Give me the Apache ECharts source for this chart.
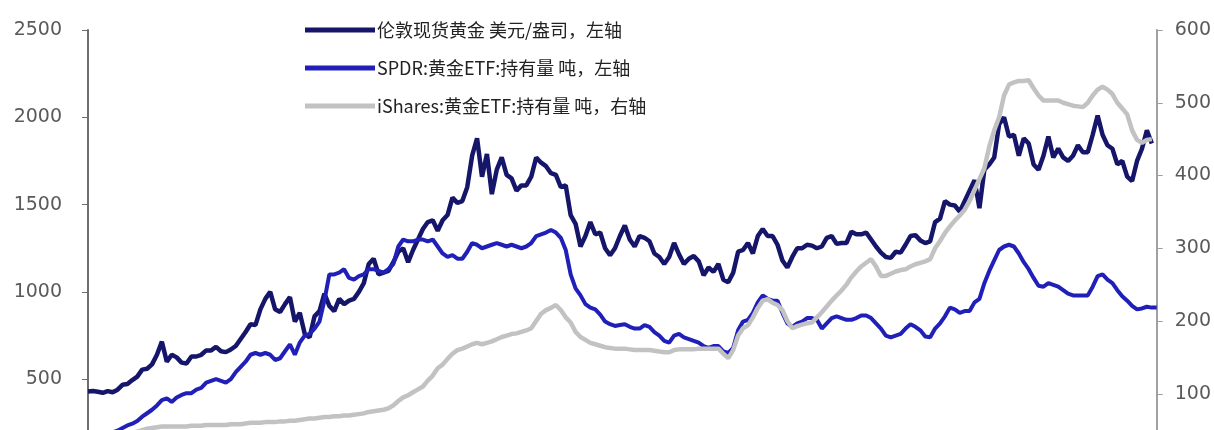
<!DOCTYPE html>
<html>
<head>
<meta charset="utf-8">
<script src="https://cdn.jsdelivr.net/npm/echarts@6/dist/echarts.min.js"></script>
<style>
html,body{margin:0;padding:0;background:#fff;overflow:hidden;width:1214px;height:430px;}
#c{width:1214px;height:476px;}
</style>
</head>
<body>
<div id="c"></div>
<script>
// Monthly categories: 2005-02 .. 2023-03
var startYear = 2005, startMonth = 2, monthCount = 218;
var months = [];
for (var k = 0; k < monthCount; k++) {
  var m = startMonth - 1 + k;
  var y = startYear + Math.floor(m / 12);
  var mm = (m % 12) + 1;
  months.push(y + '-' + (mm < 10 ? '0' + mm : mm));
}

var seriesNames = ['伦敦现货黄金 美元/盎司，左轴', 'SPDR:黄金ETF:持有量 吨，左轴', 'iShares:黄金ETF:持有量 吨，右轴'];

// London spot gold, USD/oz (left axis)
var goldPrice = [
  430, 432, 428, 422, 432, 425, 440, 468, 472, 495, 515,
  555, 560, 585, 640, 715, 600, 640, 625, 595, 590, 630, 630,
  640, 665, 665, 685, 660, 655, 670, 690, 730, 770, 815, 810,
  900, 960, 1000, 900, 885, 930, 970, 830, 880, 760, 740, 860,
  890, 990, 920, 890, 960, 930, 950, 960, 1000, 1050, 1160, 1190,
  1100, 1110, 1120, 1170, 1230, 1250, 1170, 1240, 1300, 1360, 1400, 1410,
  1350, 1410, 1440, 1540, 1510, 1520, 1600, 1780, 1880, 1660, 1790, 1560,
  1700, 1770, 1670, 1650, 1580, 1610, 1610, 1660, 1770, 1740, 1720, 1680,
  1670, 1600, 1610, 1440, 1390, 1260, 1320, 1400, 1330, 1340, 1250, 1210,
  1250, 1320, 1380, 1300, 1260, 1320, 1310, 1290, 1220, 1200, 1160, 1200,
  1280, 1215, 1160, 1190, 1205, 1175, 1095, 1140, 1115, 1160, 1070, 1056,
  1110, 1230, 1240, 1280, 1220, 1320, 1360, 1320, 1320, 1270, 1180, 1140,
  1200, 1250, 1250, 1270, 1265, 1250, 1260, 1310, 1320, 1275, 1280, 1280,
  1345, 1330, 1330, 1340, 1300, 1260, 1225, 1200, 1195, 1230, 1225, 1270,
  1320, 1325, 1295, 1280, 1290, 1400, 1420, 1520, 1500, 1495, 1460, 1520,
  1580, 1640, 1480, 1700, 1730, 1770, 1960, 2000, 1890, 1900, 1780, 1880,
  1850, 1730, 1700, 1780, 1890, 1770, 1820, 1770, 1750, 1780, 1840, 1800,
  1800, 1900, 2010, 1900, 1840, 1820, 1730, 1750, 1660, 1635, 1750, 1820,
  1925, 1850, null
];

// SPDR gold ETF holdings, tonnes (left axis)
var spdrHoldings = [
  135, 145, 155, 165, 180, 195, 205, 220, 235, 245, 260,
  285, 305, 325, 350, 380, 390, 370, 395, 410, 420, 420, 440,
  450, 480, 490, 500, 490, 480, 500, 540, 570, 600, 640, 650,
  640, 650, 640, 610, 620, 660, 700, 640, 710, 750, 760, 790,
  830, 950, 1100, 1100, 1110, 1130, 1080, 1070, 1090, 1100, 1130, 1130,
  1120, 1110, 1130, 1160, 1260, 1300, 1290, 1290, 1300, 1300, 1290, 1300,
  1260, 1220, 1200, 1210, 1190, 1190, 1230, 1280, 1270, 1250, 1260, 1270,
  1280, 1270, 1260, 1270, 1260, 1250, 1260, 1280, 1320, 1330, 1340, 1355,
  1340, 1310, 1240, 1100, 1020, 980, 930, 910, 900, 870, 830, 815,
  805, 810, 815, 800, 790, 790, 810, 800, 770, 750, 720, 710,
  750, 760, 740, 730, 720, 710, 690, 680, 690, 690, 660, 650,
  680, 780, 830, 840, 880, 940, 980, 960, 950, 950, 880, 820,
  800, 820, 830, 850, 850, 840, 790, 820, 850, 860, 850, 840,
  840, 850, 865, 865, 850, 820, 790, 750, 740, 750, 760, 790,
  815, 800, 780, 745, 740, 790, 820, 860, 910, 900, 880, 890,
  890, 940, 960, 1050, 1120, 1180, 1240, 1260, 1270, 1260, 1220, 1170,
  1130, 1080, 1035, 1030, 1050, 1040, 1030, 1010, 990, 980, 980, 980,
  980, 1030, 1090, 1100, 1070, 1050, 1010, 975, 950, 920, 900, 905,
  915, 910, 910
];

// iShares gold ETF holdings, tonnes (right axis)
var isharesHoldings = [
  30, 32, 33, 35, 37, 38, 40, 42, 44, 46, 48,
  50, 52, 53, 54, 55, 55, 55, 55, 55, 55, 56, 56,
  56, 57, 57, 57, 57, 57, 58, 58, 58, 59, 60, 60,
  60, 61, 61, 61, 62, 62, 63, 63, 64, 65, 66, 66,
  67, 68, 68, 69, 69, 70, 70, 71, 72, 73, 75, 76,
  77, 78, 80, 84, 90, 95, 98, 102, 106, 110, 118, 125,
  135, 140, 148, 155, 160, 162, 165, 168, 170, 168, 170, 172,
  175, 178, 180, 182, 183, 185, 187, 190, 200, 210, 215, 218,
  222, 215, 205, 198, 185, 178, 174, 170, 168, 166, 164, 163,
  162, 162, 162, 161, 160, 160, 160, 160, 159, 158, 157, 157,
  160, 161, 161, 161, 161, 162, 162, 162, 162, 162, 155, 149,
  160, 180, 190, 194, 205, 218, 228, 230, 225, 222, 215, 200,
  190, 193, 195, 197, 198, 205, 212, 220, 228, 235, 242, 250,
  260, 268, 275, 280, 285, 275, 262, 262, 265, 268, 270, 271,
  275, 278, 280, 282, 285, 300, 310, 321, 330, 338, 345, 353,
  365, 380, 395, 410, 440, 462, 480, 510, 525, 528, 530, 530,
  531, 520, 510, 503, 503, 503, 503, 500, 498, 496, 495, 494,
  500, 510, 518, 522, 518, 512, 500, 492, 484, 462, 449, 445,
  449, 450, null
];

var leftTicks = { min: 0, max: 2500, interval: 500 };
var rightTicks = { min: 0, max: 600, interval: 100 };

var chart = echarts.init(document.getElementById('c'), null, { renderer: 'canvas' });
var axisFont = { fontFamily: 'DejaVu Sans', fontSize: 19, color: '#5a5a5a', formatter: function (v) { return String(v); } };

chart.setOption({
  animation: false,
  backgroundColor: '#ffffff',
  grid: { left: 88, right: 57, top: 30, bottom: 1, containLabel: false },
  legend: {
    orient: 'vertical',
    left: 300,
    top: 16,
    icon: 'rect',
    itemWidth: 70,
    itemHeight: 5,
    itemGap: 20,
    data: seriesNames,
    textStyle: { fontFamily: '"Noto Sans CJK SC", sans-serif', fontSize: 18, color: '#222222', lineHeight: 18, padding: [0, 0, 0, -3] }
  },
  xAxis: {
    type: 'category',
    data: months,
    boundaryGap: false,
    axisLabel: { show: false },
    axisTick: { show: false },
    axisLine: { show: false },
    splitLine: { show: false }
  },
  yAxis: [
    {
      type: 'value', position: 'left',
      min: leftTicks.min, max: leftTicks.max, interval: leftTicks.interval,
      axisLine: { show: true, lineStyle: { color: '#6e6e6e', width: 2 } },
      axisTick: { show: true, inside: false, length: 6, lineStyle: { color: '#6e6e6e', width: 1 } },
      axisLabel: Object.assign({ margin: 26 }, axisFont),
      splitLine: { show: false }
    },
    {
      type: 'value', position: 'right',
      min: rightTicks.min, max: rightTicks.max, interval: rightTicks.interval,
      axisLine: { show: true, lineStyle: { color: '#a0a0a0', width: 2 } },
      axisTick: { show: true, inside: false, length: 6, lineStyle: { color: '#a0a0a0', width: 1 } },
      axisLabel: Object.assign({ margin: 18 }, axisFont),
      splitLine: { show: false }
    }
  ],
  series: [
    {
      name: seriesNames[0], type: 'line', yAxisIndex: 0, data: goldPrice,
      symbol: 'none', connectNulls: false,
      lineStyle: { color: '#15156a', width: 4.5 }, itemStyle: { color: '#15156a' }
    },
    {
      name: seriesNames[1], type: 'line', yAxisIndex: 0, data: spdrHoldings,
      symbol: 'none',
      lineStyle: { color: '#2020b8', width: 4 }, itemStyle: { color: '#2020b8' }
    },
    {
      name: seriesNames[2], type: 'line', yAxisIndex: 1, data: isharesHoldings,
      symbol: 'none',
      lineStyle: { color: '#c2c2c2', width: 4.5 }, itemStyle: { color: '#c2c2c2' }
    }
  ]
});
</script>
</body>
</html>
